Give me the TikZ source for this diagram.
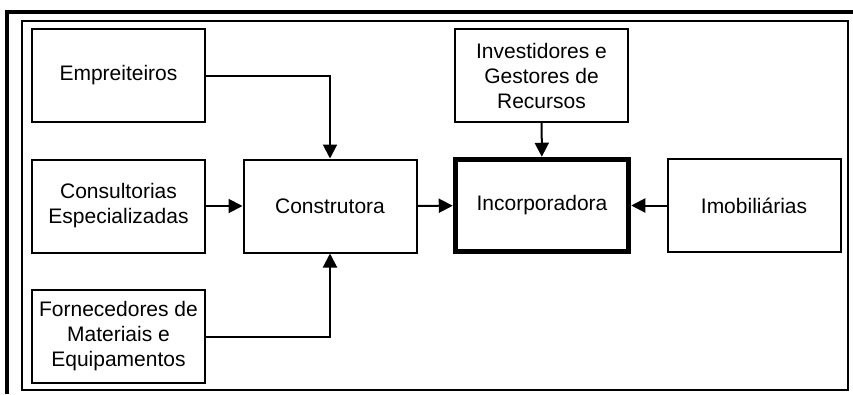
\documentclass[tikz,border=0pt]{standalone}
\usepackage{fontspec}
\setmainfont{Liberation Sans}
\usetikzlibrary{arrows.meta}

\begin{document}
\begin{tikzpicture}
      [x=1pt, y=-1pt,
       box/.style={draw, line width=2pt, minimum width=173pt, minimum height=93pt,
                   inner sep=0pt, align=center, font=\fontsize{21}{25}\selectfont},
       arr/.style={line width=2pt, -{Triangle[length=14pt,width=14pt]}}]
      \useasboundingbox (0,0) rectangle (853,394);

      % frames
      \draw[line width=4pt] (7,394) -- (7,12) -- (853,12);
      \draw[line width=1.5pt] (22,21) rectangle (848,390);

      \node[box] (emp) at (118.5,75.5) {Empreiteiros};
      \node[box] (cons) at (118.5,206) {Consultorias\\Especializadas};
      \node[box] (forn) at (118.5,336.5) {Fornecedores de\\Materiais e\\Equipamentos};
      \node[box] (constr) at (330,206) {Construtora};
      \node[box] (inv) at (541.5,75.5) {Investidores e\\Gestores de\\Recursos};
      \node[box, line width=5.5pt, minimum width=173pt, minimum height=92pt] (inc) at (542,205.5) {Incorporadora};
      \node[box] (imob) at (754,205.5) {Imobiliárias};

      \draw[arr] (emp.east) -| (constr.north);
      \draw[arr] (forn.east) -| (constr.south);
      \draw[arr] (cons) -- (constr);
      \draw[arr] (constr) -- (inc);
      \draw[arr] (inv) -- (inc);
      \draw[arr] (imob) -- (inc);
\end{tikzpicture}
\end{document}
